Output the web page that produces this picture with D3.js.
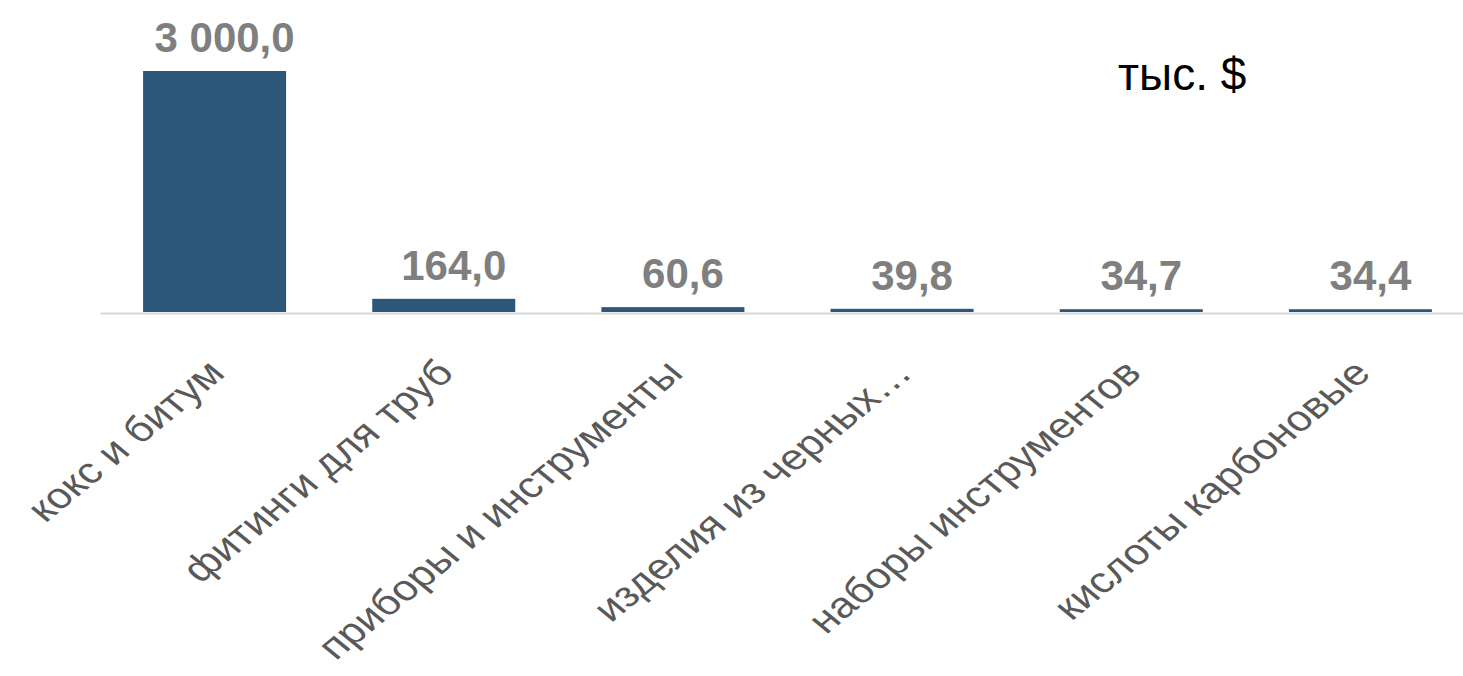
<!DOCTYPE html>
<html>
<head>
<meta charset="utf-8">
<script src="https://cdn.jsdelivr.net/npm/d3@7"></script>
<style>
  body { margin: 0; background: #fff; }
  svg { display: block; font-family: "Liberation Sans", Arial, sans-serif; }
</style>
</head>
<body>
<svg id="chart" width="1463" height="676"></svg>
<script>
const categories = ["кокс и битум", "фитинги для труб", "приборы и инструменты", "изделия из черных…", "наборы инструментов", "кислоты карбоновые"];
const values = [3000.0, 164.0, 60.6, 39.8, 34.7, 34.4];
const unitLabel = "тыс. $";

const width = 1463, height = 676;
const baseY = 312;

const svg = d3.select("#chart");

const x = d3.scaleBand()
    .domain(categories)
    .range([100, 1475])
    .paddingInner(0.376)
    .paddingOuter(0.188);

const y = d3.scaleLinear()
    .domain([0, 3000])
    .range([baseY, 71]);

const fmt = v => d3.format(",.1f")(v).replace(/,/g, " ").replace(".", ",");

// bars
svg.append("g")
    .selectAll("rect")
    .data(values)
    .join("rect")
    .attr("x", (d, i) => x(categories[i]))
    .attr("y", d => y(d))
    .attr("width", x.bandwidth())
    .attr("height", d => Math.max(2, baseY - y(d)))
    .attr("fill", "#2d5778");

// axis
const axis = svg.append("g")
    .attr("transform", `translate(0,${baseY + 1})`)
    .call(d3.axisBottom(x).tickSize(0).tickSizeOuter(0));
axis.select(".domain").attr("stroke", "#d9d9d9").attr("stroke-width", 2);
// labels look stretched sideways in the original, so scale x after a 45deg turn
axis.selectAll("text")
    .attr("x", 0).attr("y", 0).attr("dy", 0)
    .attr("text-anchor", "end")
    .attr("transform", "translate(12,62) scale(1.22,1) rotate(-45)")
    .style("font-family", "'Liberation Sans', Arial, sans-serif")
    .style("font-size", "36px")
    .attr("fill", "#595959");

// value labels
svg.append("g")
    .selectAll("text")
    .data(values)
    .join("text")
    .attr("x", (d, i) => x(categories[i]) + x.bandwidth() / 2 + 10)
    .attr("y", d => Math.min(y(d), baseY - 2) - 19)
    .attr("text-anchor", "middle")
    .style("font-size", "42px")
    .style("font-weight", "bold")
    .attr("fill", "#7f7f7f")
    .text(d => fmt(d));

// unit label
svg.append("text")
    .attr("x", 1118)
    .attr("y", 90)
    .style("font-size", "46px")
    .attr("fill", "#000")
    .text(unitLabel);
</script>
</body>
</html>
